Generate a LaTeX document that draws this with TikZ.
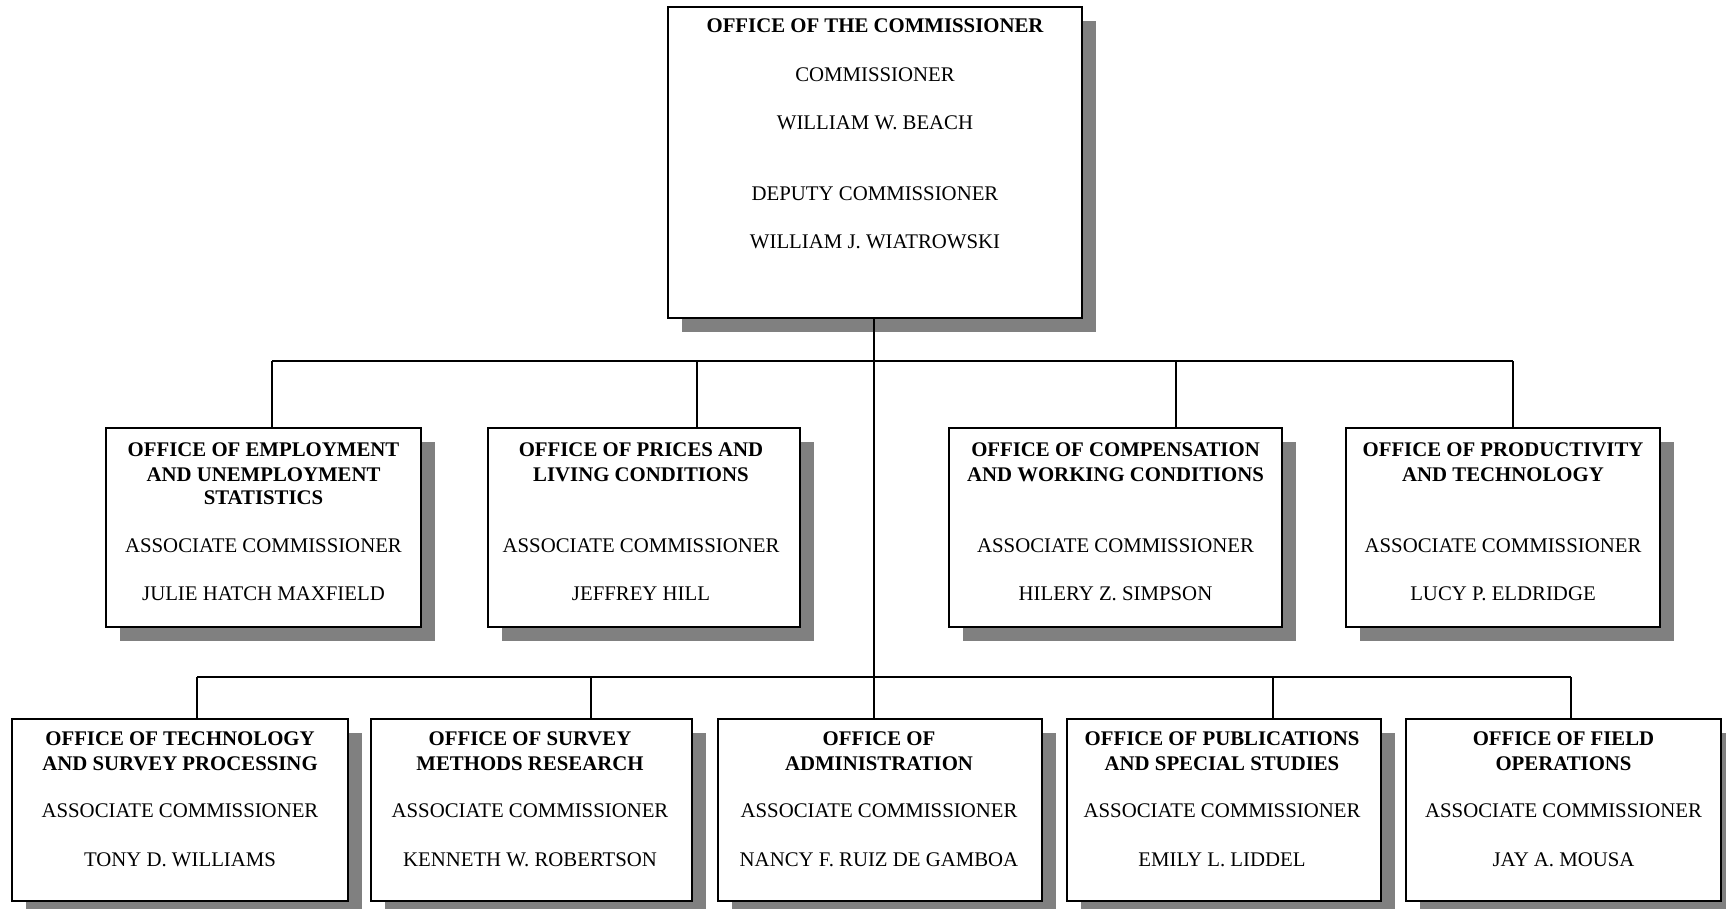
\documentclass[tikz,border=0pt]{standalone}
\usepackage{fontspec}
\setmainfont{Liberation Serif}
\usetikzlibrary{shadows,fit}
\definecolor{shadowgray}{RGB}{128,128,128}
\tikzset{
  x=0.75pt, y=-0.75pt,
  obox/.style={draw=black, line width=1.2pt, fill=white, inner sep=0pt, outer sep=0pt,
    general shadow={fill=shadowgray, shadow xshift=10.5pt, shadow yshift=-10.5pt}},
  ttl/.style={anchor=base, inner sep=0pt, font=\fontsize{15.6}{18}\selectfont\bfseries},
  txt/.style={anchor=base, inner sep=0pt, font=\fontsize{15.6}{18}\selectfont},
  conn/.style={draw=black, line width=1.1pt}
}
\begin{document}
\begin{tikzpicture}
\useasboundingbox (0,0) rectangle (1726,909);
% boxes
\node[obox, fit={(668,7) (1082,318)}] (top) {};
\node[obox, fit={(106,428) (421,627)}] (m1) {};
\node[obox, fit={(488,428) (800,627)}] (m2) {};
\node[obox, fit={(949,428) (1282,627)}] (m3) {};
\node[obox, fit={(1346,428) (1660,627)}] (m4) {};
\node[obox, fit={(12,719) (348,901)}] (b1) {};
\node[obox, fit={(371,719) (692,901)}] (b2) {};
\node[obox, fit={(718,719) (1042,901)}] (b3) {};
\node[obox, fit={(1067,719) (1381,901)}] (b4) {};
\node[obox, fit={(1406,719) (1721,901)}] (b5) {};
% connector junctions
\coordinate (d1) at (272,361);
\coordinate (d2) at (697,361);
\coordinate (dc) at (874,361);
\coordinate (d3) at (1176,361);
\coordinate (d4) at (1513,361);
\coordinate (e1) at (197,677);
\coordinate (e2) at (591,677);
\coordinate (ec) at (874,677);
\coordinate (e4) at (1273,677);
\coordinate (e5) at (1571,677);
\draw[conn] (top.south -| dc) -- (b3.north -| dc);
\draw[conn] (d1) -- (d4);
\draw[conn] (d1) -- (d1 |- m1.north);
\draw[conn] (d2) -- (d2 |- m2.north);
\draw[conn] (d3) -- (d3 |- m3.north);
\draw[conn] (d4) -- (d4 |- m4.north);
\draw[conn] (e1) -- (e5);
\draw[conn] (e1) -- (e1 |- b1.north);
\draw[conn] (e2) -- (e2 |- b2.north);
\draw[conn] (e4) -- (e4 |- b4.north);
\draw[conn] (e5) -- (e5 |- b5.north);
% top texts
\node[ttl] (top1) at (875,32.5) {OFFICE OF THE COMMISSIONER};
\node[txt] (top2) at (875,81.5) {COMMISSIONER};
\node[txt] (top3) at (875,129.5) {WILLIAM W. BEACH};
\node[txt] (top4) at (875,200.5) {DEPUTY COMMISSIONER};
\node[txt] (top5) at (875,248.5) {WILLIAM J. WIATROWSKI};
% middle row
\node[ttl] (m1a) at (263.5,456.5) {OFFICE OF EMPLOYMENT};
\node[ttl] (m1b) at (263.5,481.5) {AND UNEMPLOYMENT};
\node[ttl] (m1c) at (263.5,504.5) {STATISTICS};
\node[txt] (m1d) at (263.5,552.5) {ASSOCIATE COMMISSIONER};
\node[txt] (m1e) at (263.5,600.5) {JULIE HATCH MAXFIELD};
\node[ttl] (m2a) at (641,456.5) {OFFICE OF PRICES AND};
\node[ttl] (m2b) at (641,481.5) {LIVING CONDITIONS};
\node[txt] (m2d) at (641,552.5) {ASSOCIATE COMMISSIONER};
\node[txt] (m2e) at (641,600.5) {JEFFREY HILL};
\node[ttl] (m3a) at (1115.5,456.5) {OFFICE OF COMPENSATION};
\node[ttl] (m3b) at (1115.5,481.5) {AND WORKING CONDITIONS};
\node[txt] (m3d) at (1115.5,552.5) {ASSOCIATE COMMISSIONER};
\node[txt] (m3e) at (1115.5,600.5) {HILERY Z. SIMPSON};
\node[ttl] (m4a) at (1503,456.5) {OFFICE OF PRODUCTIVITY};
\node[ttl] (m4b) at (1503,481.5) {AND TECHNOLOGY};
\node[txt] (m4d) at (1503,552.5) {ASSOCIATE COMMISSIONER};
\node[txt] (m4e) at (1503,600.5) {LUCY P. ELDRIDGE};
% bottom row
\node[ttl] (b1a) at (180,745.5) {OFFICE OF TECHNOLOGY};
\node[ttl] (b1b) at (180,770.5) {AND SURVEY PROCESSING};
\node[txt] (b1d) at (180,817.5) {ASSOCIATE COMMISSIONER};
\node[txt] (b1e) at (180,866.5) {TONY D. WILLIAMS};
\node[ttl] (b2a) at (530,745.5) {OFFICE OF SURVEY};
\node[ttl] (b2b) at (530,770.5) {METHODS RESEARCH};
\node[txt] (b2d) at (530,817.5) {ASSOCIATE COMMISSIONER};
\node[txt] (b2e) at (530,866.5) {KENNETH W. ROBERTSON};
\node[ttl] (b3a) at (879,745.5) {OFFICE OF};
\node[ttl] (b3b) at (879,770.5) {ADMINISTRATION};
\node[txt] (b3d) at (879,817.5) {ASSOCIATE COMMISSIONER};
\node[txt] (b3e) at (879,866.5) {NANCY F. RUIZ DE GAMBOA};
\node[ttl] (b4a) at (1222,745.5) {OFFICE OF PUBLICATIONS};
\node[ttl] (b4b) at (1222,770.5) {AND SPECIAL STUDIES};
\node[txt] (b4d) at (1222,817.5) {ASSOCIATE COMMISSIONER};
\node[txt] (b4e) at (1222,866.5) {EMILY L. LIDDEL};
\node[ttl] (b5a) at (1563.5,745.5) {OFFICE OF FIELD};
\node[ttl] (b5b) at (1563.5,770.5) {OPERATIONS};
\node[txt] (b5d) at (1563.5,817.5) {ASSOCIATE COMMISSIONER};
\node[txt] (b5e) at (1563.5,866.5) {JAY A. MOUSA};
\end{tikzpicture}
\end{document}
